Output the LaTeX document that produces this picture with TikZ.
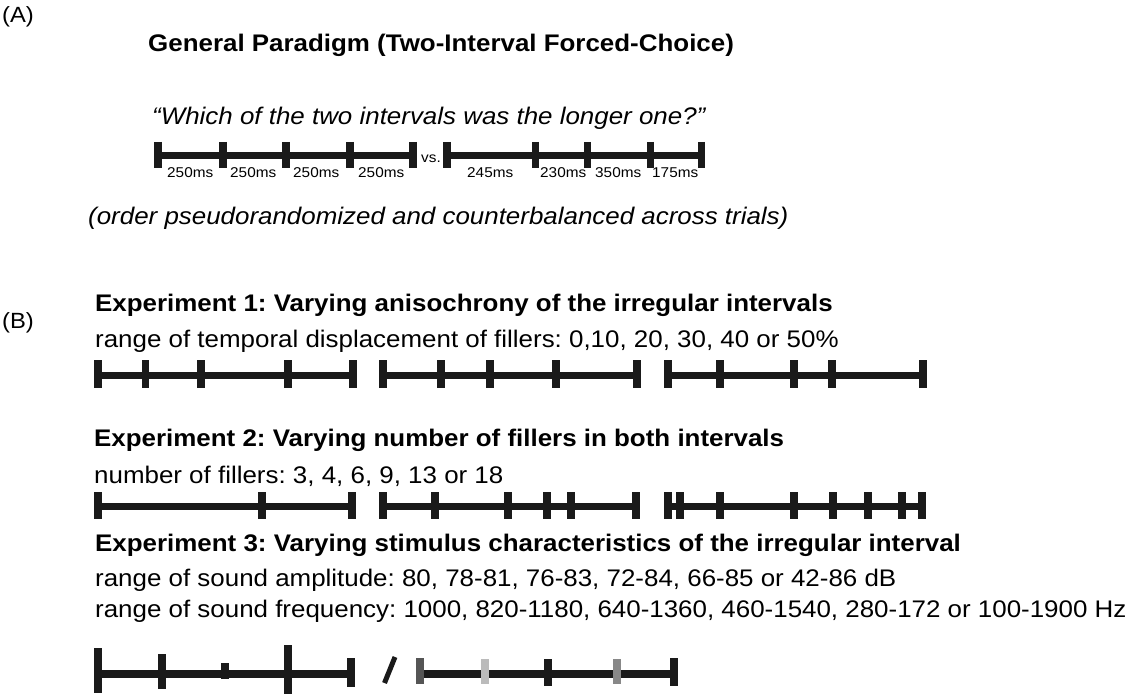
\documentclass[tikz,border=0pt]{standalone}
\usepackage{fontspec}
\setmainfont{Liberation Sans}[FakeStretch=1.08]
\frenchspacing
\definecolor{ink}{HTML}{1A1A1A}
\definecolor{gdark}{HTML}{555555}
\definecolor{glight}{HTML}{BBBBBB}
\definecolor{gmid}{HTML}{888888}
\begin{document}
\begin{tikzpicture}[x=1pt,y=-1pt,
  txt/.style={anchor=base west,inner sep=0pt,font=\fontsize{24}{28}\selectfont},
  btxt/.style={txt,font=\fontsize{24}{28}\selectfont\bfseries},
  itxt/.style={txt,font=\fontsize{24}{28}\selectfont\itshape},
  panel/.style={txt,font=\fontsize{22}{26}\selectfont},
  small/.style={anchor=base west,inner sep=0pt,font=\fontsize{14.2}{16}\selectfont},
  hbarA/.style={draw=ink,line width=7pt},
  tkA/.style={draw=ink,line width=7.5pt},
  hbar/.style={draw=ink,line width=7pt},
  tk/.style={draw=ink,line width=7.5pt},
  tk3/.style={draw=ink,line width=8pt}]
\useasboundingbox (0,0) rectangle (1145,695);
% ---------- (A) ----------
\node[panel] (labA) at (2,23) {(A)};
\node[btxt] (titleA) at (148,52) {General Paradigm (Two-Interval Forced-Choice)};
\node[itxt] (question) at (152,125) {“Which of the two intervals was the longer one?”};
\draw[hbarA] (158,156) -- (413,156);
\foreach \x in {158,223,286,350,413} \draw[tkA] (\x,142) -- (\x,168);
\draw[hbarA] (447,156) -- (701.5,156);
\foreach \x in {447,535.5,587.5,650.5,701.5} \draw[tkA] (\x,142) -- (\x,168);
\node[small] (m1) at (167,178) {250ms};
\node[small] (m2) at (230,178) {250ms};
\node[small] (m3) at (293,178) {250ms};
\node[small] (m4) at (358,178) {250ms};
\node[small] (vs) at (421,163) {vs.};
\node[small] (m5) at (467,178) {245ms};
\node[small] (m6) at (540,178) {230ms};
\node[small] (m7) at (595,178) {350ms};
\node[small] (m8) at (652,178) {175ms};
\node[itxt] (order) at (88,224) {(order pseudorandomized and counterbalanced across trials)};
% ---------- (B) ----------
\node[panel] (labB) at (2,328) {(B)};
% Experiment 1
\node[btxt] (e1t) at (95,311) {Experiment 1: Varying anisochrony of the irregular intervals};
\node[txt] (e1s) at (95,347) {range of temporal displacement of fillers: 0,10, 20, 30, 40 or 50\%};
\draw[hbar] (98,375.5) -- (353,375.5);
\foreach \x in {98,145.5,201,288,353} \draw[tk] (\x,360) -- (\x,388);
\draw[hbar] (383,375.5) -- (637,375.5);
\foreach \x in {383,441,490,556,637} \draw[tk] (\x,360) -- (\x,388);
\draw[hbar] (668,375.5) -- (923,375.5);
\foreach \x in {668,720,794,832,923} \draw[tk] (\x,360) -- (\x,388);
% Experiment 2
\node[btxt] (e2t) at (94,446) {Experiment 2: Varying number of fillers in both intervals};
\node[txt] (e2s) at (94,483) {number of fillers: 3, 4, 6, 9, 13 or 18};
\draw[hbar] (98,506) -- (352,506);
\foreach \x in {98,262,352} \draw[tk] (\x,492) -- (\x,519);
\draw[hbar] (383,506) -- (636,506);
\foreach \x in {383,435,508,547,571,636} \draw[tk] (\x,492) -- (\x,519);
\draw[hbar] (668,506) -- (922,506);
\foreach \x in {668,680,720,794,833,868,902,922} \draw[tk] (\x,492) -- (\x,519);
% Experiment 3
\node[btxt] (e3t) at (95,551) {Experiment 3: Varying stimulus characteristics of the irregular interval};
\node[txt] (e3a) at (95,586) {range of sound amplitude: 80, 78-81, 76-83, 72-84, 66-85 or 42-86 dB};
\node[txt] (e3f) at (95,617) {range of sound frequency: 1000, 820-1180, 640-1360, 460-1540, 280-172 or 100-1900 Hz};
\draw[hbar,line width=8pt] (98.3,674) -- (351,674);
\draw[tk3] (98.3,648) -- (98.3,693);
\draw[tk3] (161.6,654) -- (161.6,689);
\draw[tk3] (225.3,663) -- (225.3,679);
\draw[tk3] (288,645) -- (288,694);
\draw[tk3] (351,658) -- (351,687);
\draw[draw=ink,line width=5pt] (384.5,683) -- (395,657);
\draw[hbar,line width=8pt] (420,674) -- (674,674);
\draw[tk3,draw=gdark] (420,658) -- (420,684);
\draw[tk3,draw=glight] (485,659) -- (485,684);
\draw[tk3] (548,659) -- (548,686);
\draw[tk3,draw=gmid] (617,659) -- (617,684);
\draw[tk3] (674,658) -- (674,686);
\end{tikzpicture}
\end{document}
